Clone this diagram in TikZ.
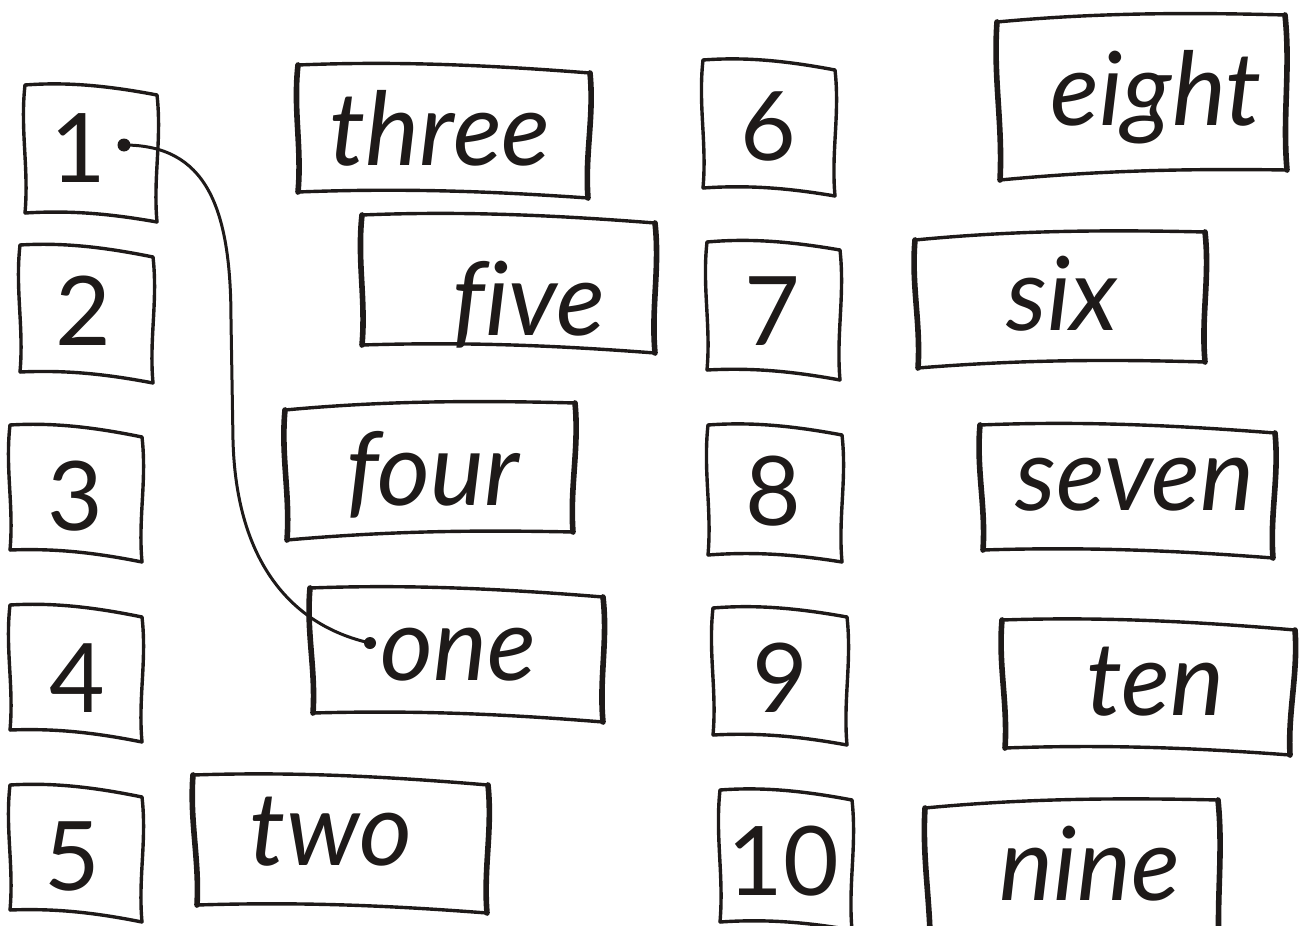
\documentclass[tikz,border=0pt]{standalone}
\usepackage{fontspec}
\setmainfont{Lato}[Ligatures={NoCommon}]
\usetikzlibrary{calc}
\definecolor{ink}{HTML}{1E1A19}
\tikzset{
  edgethin/.style={draw=ink, line width=3.4pt, line cap=round, line join=round},
  edgethick/.style={draw=ink, line width=5.6pt, line cap=round, line join=round},
  numtxt/.style={font=\fontsize{96}{96}\selectfont, inner sep=0pt, anchor=base, text=ink},
  wordtxt/.style={font=\fontsize{102}{102}\selectfont\itshape, inner sep=0pt, anchor=base, text=ink},
  link/.style={draw=ink, line width=3pt},
  linkdot/.style={fill=ink},
}
% #1 side style, #2 name, #3 TL, #4 TR, #5 BR, #6 BL
\newcommand\sketchbox[6]{%
  \coordinate (#2-tl) at (#3); \coordinate (#2-tr) at (#4);
  \coordinate (#2-br) at (#5); \coordinate (#2-bl) at (#6);
  \draw[edgethin] (#2-tl) .. controls ($(#2-tl)!0.3!(#2-tr)+(0,-6)$) and ($(#2-tl)!0.6!(#2-tr)+(0,-6)$) .. (#2-tr);
  \draw[edgethin] (#2-bl) .. controls ($(#2-bl)!0.35!(#2-br)+(0,-6)$) and ($(#2-bl)!0.65!(#2-br)+(0,-5)$) .. (#2-br);
  \draw[#1] (#2-tl) .. controls ($(#2-tl)!0.35!(#2-bl)+(-5,0)$) and ($(#2-tl)!0.65!(#2-bl)+(4,0)$) .. (#2-bl);
  \draw[#1] (#2-tr) .. controls ($(#2-tr)!0.35!(#2-br)+(5,0)$) and ($(#2-tr)!0.65!(#2-br)+(-4,0)$) .. (#2-br);
}
\begin{document}
\begin{tikzpicture}[x=1pt,y=-1pt]
\useasboundingbox (0,0) rectangle (1301,926);
\clip (0,0) rectangle (1301,926);

% number boxes
\sketchbox{edgethin}{b1}{25,85}{157,95}{157,222}{25,213}
\sketchbox{edgethin}{b2}{20,245}{153,257}{153,383}{20,372}
\sketchbox{edgethin}{b3}{10,425}{142,437}{142,562}{10,550}
\sketchbox{edgethin}{b4}{10,605}{142,617}{142,742}{10,730}
\sketchbox{edgethin}{b5}{10,785}{142,797}{142,922}{10,910}
\sketchbox{edgethin}{b6}{703,60}{835,70}{835,196}{703,188}
\sketchbox{edgethin}{b7}{707,242}{840,250}{840,380}{707,370}
\sketchbox{edgethin}{b8}{708,425}{842,435}{842,562}{708,555}
\sketchbox{edgethin}{b9}{713,608}{847,617}{847,745}{713,735}
\sketchbox{edgethin}{b10}{720,790}{852,800}{852,930}{720,922}

\node[numtxt] (n1) at (78,182) {1};
\node[numtxt] (n2) at (83,345) {2};
\node[numtxt] (n3) at (75,530) {3};
\node[numtxt] (n4) at (77,712) {4};
\node[numtxt] (n5) at (72,890) {5};
\node[numtxt] (n6) at (768,160) {6};
\node[numtxt] (n7) at (772,345) {7};
\node[numtxt] (n8) at (773,525) {8};
\node[numtxt] (n9) at (780,712) {9};
\node[numtxt] (n10) at (783,895) {10};

% word boxes
\sketchbox{edgethick}{wthree}{298,65}{590,73}{588,198}{298,192}
\sketchbox{edgethick}{wfive}{362,215}{655,223}{655,353}{362,345}
\sketchbox{edgethick}{wfour}{285,410}{575,403}{573,532}{287,540}
\sketchbox{edgethick}{wone}{310,588}{603,597}{603,722}{313,713}
\sketchbox{edgethick}{wtwo}{193,775}{488,785}{487,913}{197,905}
\sketchbox{edgethick}{weight}{997,22}{1285,15}{1287,170}{1000,180}
\sketchbox{edgethick}{wsix}{915,240}{1205,232}{1205,362}{918,368}
\sketchbox{edgethick}{wseven}{980,425}{1275,433}{1273,558}{983,550}
\sketchbox{edgethick}{wten}{1002,620}{1295,630}{1290,755}{1005,748}
\sketchbox{edgethick}{wnine}{925,808}{1218,800}{1220,960}{930,965}

\node[wordtxt] (t3) at (440,165) {three};
\node[wordtxt] (t5) at (529,335) {five};
\node[wordtxt] (t4) at (433,505) {four};
\node[wordtxt] (t1) at (458,680) {one};
\node[wordtxt] (t2) at (331,865) {two};
\node[wordtxt] (t8) at (1156,125) {eight};
\node[wordtxt] (t6) at (1062,330) {six};
\node[wordtxt] (t7) at (1135,510) {seven};
\node[wordtxt] (t10) at (1155,715) {ten};
\node[wordtxt] (t9) at (1090,900) {nine};

% the example link 1 -> one
\coordinate (d1) at (124,145);
\coordinate (d2) at (370,643);
\draw[link] (d1) .. controls (205,145) and (231,205) .. (231,320)
  -- (233,440) .. controls (236,560) and (290,625) .. (d2);
\fill[linkdot] (d1) circle (6.5);
\fill[linkdot] (d2) circle (6);
\end{tikzpicture}
\end{document}
